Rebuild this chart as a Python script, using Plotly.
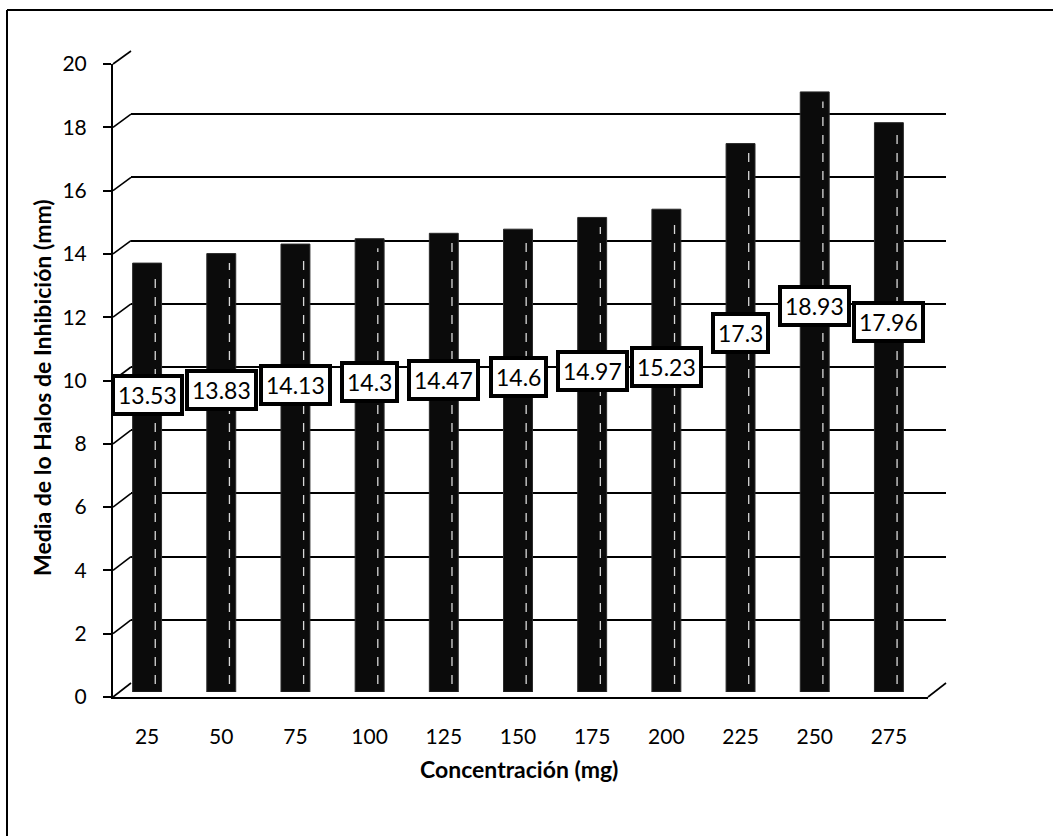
import plotly.graph_objects as go

# Mean inhibition halo per concentration
concentrations = ["25", "50", "75", "100", "125", "150", "175", "200", "225", "250", "275"]
mean_halo_mm = [13.53, 13.83, 14.13, 14.30, 14.47, 14.60, 14.97, 15.23, 17.30, 18.93, 17.96]
y_ticks = [0, 2, 4, 6, 8, 10, 12, 14, 16, 18, 20]

W, H = 1053, 836
FONT = "Lato, 'Open Sans', sans-serif"


def px(x):
    return x / W


def py(y):
    return 1 - y / H


# pixel frames for the pseudo-3D chart: back wall, front axis, bar plane
BACK = dict(x0=131, x1=946, y0=683, y1=51)
FRONT = dict(x0=113, x1=928, y0=697, y1=64)
BARS = dict(x0=110, x1=926, y0=692, y1=58)
YMAX = 20

idx = list(range(len(concentrations)))

fig = go.Figure()

# back wall (subplot 1) - carries only the horizontal gridlines
fig.add_trace(go.Scatter(x=[0], y=[0], xaxis="x", yaxis="y", mode="markers",
                         marker=dict(opacity=0), showlegend=False, hoverinfo="skip"))
# front axis (subplot 2) - value ticks and labels
fig.add_trace(go.Scatter(x=[0], y=[0], xaxis="x2", yaxis="y2", mode="markers",
                         marker=dict(opacity=0), showlegend=False, hoverinfo="skip"))
# bars (subplot 3)
fig.add_trace(go.Bar(
    x=idx, y=mean_halo_mm, xaxis="x3", yaxis="y3",
    width=0.39, marker=dict(color="#0b0b0b", line=dict(color="#2a2a2a", width=1)),
    showlegend=False, hoverinfo="skip",
))
# light edge highlight running up the side face of each bar
for i, v in zip(idx, mean_halo_mm):
    fig.add_trace(go.Scatter(
        x=[i + 0.11, i + 0.11], y=[0.25, v - 0.3], xaxis="x3", yaxis="y3",
        mode="lines", line=dict(color="#d8d8d8", width=1.3, dash="dash"),
        showlegend=False, hoverinfo="skip",
    ))

common = dict(automargin=False, fixedrange=True)
fig.update_layout(
    width=W, height=H,
    margin=dict(l=0, r=0, t=0, b=0, autoexpand=False),
    paper_bgcolor="white", plot_bgcolor="rgba(0,0,0,0)",
    font=dict(family=FONT, color="black"),
    xaxis=dict(domain=[px(BACK["x0"]), px(BACK["x1"])], range=[0, 1],
               showgrid=False, showticklabels=False, zeroline=False, **common),
    yaxis=dict(domain=[py(BACK["y0"]), py(BACK["y1"])], range=[0, YMAX],
               tickvals=y_ticks, showgrid=True, gridcolor="black", gridwidth=1.6,
               showticklabels=False, zeroline=False, anchor="x", **common),
    xaxis2=dict(domain=[px(FRONT["x0"]), px(FRONT["x1"])], range=[0, 1],
                showgrid=False, showticklabels=False, zeroline=False,
                showline=True, linecolor="black", linewidth=2, anchor="y2", **common),
    yaxis2=dict(domain=[py(FRONT["y0"]), py(FRONT["y1"])], range=[0, YMAX],
                tickvals=y_ticks, showgrid=False, zeroline=False,
                showline=True, linecolor="black", linewidth=2,
                ticks="outside", ticklen=8, tickwidth=1.5, tickcolor="black",
                ticklabelstandoff=12, tickfont=dict(size=21, family=FONT),
                anchor="x2", **common),
    xaxis3=dict(domain=[px(BARS["x0"]), px(BARS["x1"])],
                range=[-0.5, len(concentrations) - 0.5],
                tickvals=idx, ticktext=concentrations,
                showgrid=False, zeroline=False, showline=False,
                ticks="outside", ticklen=26, tickcolor="rgba(0,0,0,0)",
                tickfont=dict(size=21, family=FONT), anchor="y3", **common),
    yaxis3=dict(domain=[py(BARS["y0"]), py(BARS["y1"])], range=[0, YMAX],
                showgrid=False, showticklabels=False, zeroline=False,
                anchor="x3", **common),
)


def front_y(v):
    return FRONT["y0"] + (FRONT["y1"] - FRONT["y0"]) * v / YMAX


def back_y(v):
    return BACK["y0"] + (BACK["y1"] - BACK["y0"]) * v / YMAX


shapes = []
# side-wall connectors from each front tick to the back gridline
for v in y_ticks:
    shapes.append(dict(type="line", xref="paper", yref="paper",
                       x0=px(FRONT["x0"]), y0=py(front_y(v)),
                       x1=px(BACK["x0"]), y1=py(back_y(v)),
                       line=dict(color="black", width=1.6)))
# right edge of the floor
shapes.append(dict(type="line", xref="paper", yref="paper",
                   x0=px(FRONT["x1"]), y0=py(front_y(0)),
                   x1=px(BACK["x1"]), y1=py(back_y(0)),
                   line=dict(color="black", width=1.6)))
# outer chart frame (top and left edges)
shapes.append(dict(type="line", xref="paper", yref="paper",
                   x0=px(7), y0=py(10), x1=1, y1=py(10),
                   line=dict(color="black", width=2)))
shapes.append(dict(type="line", xref="paper", yref="paper",
                   x0=px(7), y0=py(10), x1=px(7), y1=0,
                   line=dict(color="black", width=2)))

annotations = []
# boxed value labels
for i, v in zip(idx, mean_halo_mm):
    annotations.append(dict(
        x=i, y=0.52 * v + 2.33, xref="x3", yref="y3",
        text=f"{v:g}", showarrow=False,
        font=dict(size=23, family=FONT, color="black"),
        bgcolor="white", bordercolor="black", borderwidth=4, borderpad=3,
    ))
# axis titles
annotations.append(dict(
    x=px(519), y=py(769), xref="paper", yref="paper",
    text="<b>Concentración (mg)</b>", showarrow=False,
    font=dict(size=23, family=FONT), xanchor="center", yanchor="middle",
))
annotations.append(dict(
    x=px(42), y=py(388), xref="paper", yref="paper",
    text="<b>Media de lo Halos de Inhibición (mm)</b>", showarrow=False,
    textangle=-90, font=dict(size=23, family=FONT),
    xanchor="center", yanchor="middle",
))

fig.update_layout(shapes=shapes, annotations=annotations)

fig.write_html("out.html")
